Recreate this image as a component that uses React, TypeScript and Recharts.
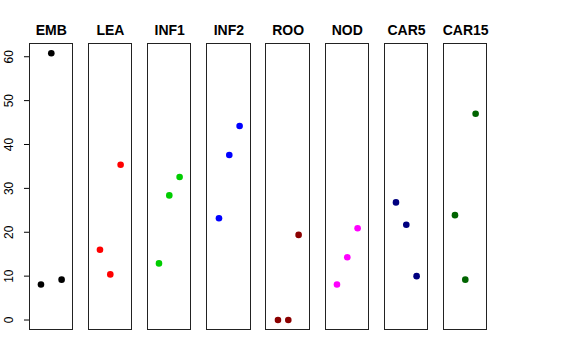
import React from "react";
import { ScatterChart, Scatter, XAxis, YAxis } from "recharts";

const groups = ["EMB", "LEA", "INF1", "INF2", "ROO", "NOD", "CAR5", "CAR15"];
const colors = ["#000000", "#ff0000", "#00cd00", "#0000ff", "#8b0000", "#ff00ff", "#000080", "#006400"];
const positions = [1, 2, 3];
const emb = [8.1, 60.8, 9.2];
const lea = [16.0, 10.4, 35.4];
const inf1 = [12.9, 28.4, 32.6];
const inf2 = [23.2, 37.6, 44.2];
const roo = [0, 0, 19.4];
const nod = [8.1, 14.3, 20.9];
const car5 = [26.8, 21.7, 10.0];
const car15 = [23.9, 9.2, 47.0];
const yTicks = [0, 10, 20, 30, 40, 50, 60];

const series = [emb, lea, inf1, inf2, roo, nod, car5, car15];

const FONT = "'Liberation Sans', Arial, Helvetica, sans-serif";
const PLOT_TOP = 43.3;
const PLOT_H = 287.7;
const PANEL_W = 44.6;
const FIRST_LEFT = 29;
const STEP = 59.2;
const AXIS_W = 29;

const YTick = (props: any) => {
  const { y, payload } = props;
  return (
    <g>
      <line x1={AXIS_W - 5} x2={AXIS_W} y1={y} y2={y} stroke="#000" strokeWidth={1} />
      <text
        transform={`translate(13, ${y}) rotate(-90)`}
        textAnchor="middle"
        fontSize={12}
        fontFamily={FONT}
        fill="#000"
      >
        {payload.value}
      </text>
    </g>
  );
};

function Panel({ idx }: { idx: number }) {
  const first = idx === 0;
  const data = positions.map((x, i) => ({ x, y: series[idx][i] }));
  const color = colors[idx];
  const left = FIRST_LEFT + idx * STEP;
  return (
    <>
      <div
        style={{
          position: "absolute",
          left: left - 10,
          width: PANEL_W + 20,
          top: 22,
          textAlign: "center",
          fontFamily: FONT,
          fontWeight: "bold",
          fontSize: 14,
          lineHeight: "16px",
        }}
      >
        {groups[idx]}
      </div>
      <div
        style={{
          position: "absolute",
          left: left - 0.5,
          top: PLOT_TOP - 0.5,
          width: PANEL_W,
          height: PLOT_H,
          border: "1px solid #222",
          boxSizing: "border-box",
        }}
      />
      <div style={{ position: "absolute", left: first ? 0 : left, top: PLOT_TOP }}>
        <ScatterChart
          width={first ? PANEL_W + AXIS_W : PANEL_W}
          height={PLOT_H}
          margin={{ top: 0, right: 0, bottom: 0, left: 0 }}
        >
          <XAxis type="number" dataKey="x" domain={[-0.16, 4.16]} hide />
          <YAxis
            type="number"
            dataKey="y"
            domain={[-2.43, 63.13]}
            allowDataOverflow
            hide={!first}
            width={AXIS_W}
            ticks={yTicks}
            axisLine={false}
            tickLine={false}
            tick={<YTick />}
            interval={0}
          />
          <Scatter
            data={data}
            isAnimationActive={false}
            shape={(p: any) => <circle cx={p.cx} cy={p.cy} r={3.3} fill={color} />}
          />
        </ScatterChart>
      </div>
    </>
  );
}

export default function App() {
  return (
    <div
      style={{
        position: "absolute",
        left: 0,
        top: 0,
        width: 576,
        height: 360,
        background: "#fff",
        overflow: "hidden",
      }}
    >
      {groups.map((g, i) => (
        <Panel key={g} idx={i} />
      ))}
    </div>
  );
}
